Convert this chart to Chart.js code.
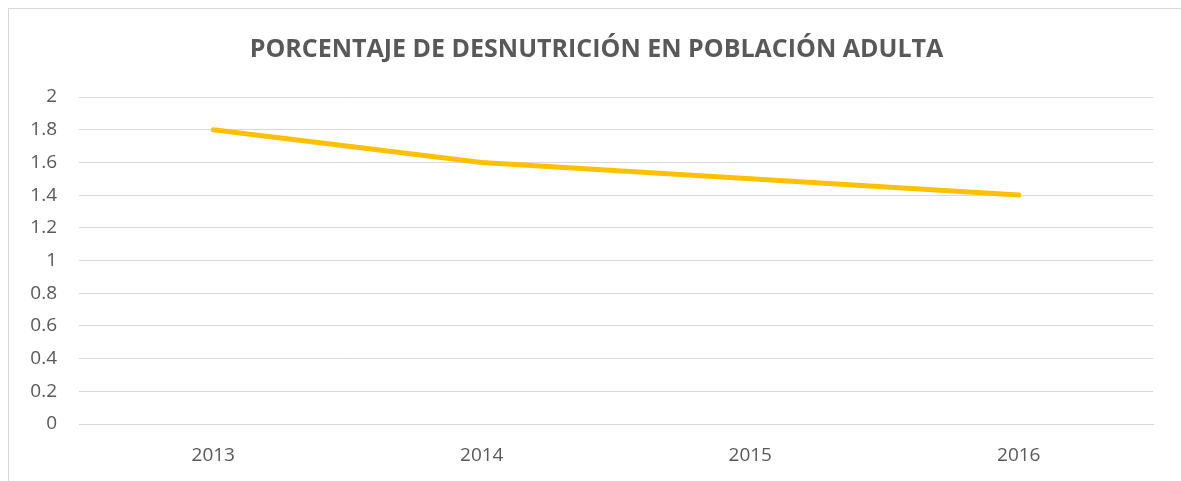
<!DOCTYPE html>
<html>
<head>
<meta charset="utf-8">
<script src="https://cdn.jsdelivr.net/npm/chart.js@4/dist/chart.umd.min.js"></script>
<style>
  html,body{margin:0;padding:0;background:#fff;overflow:hidden;}
  #wrap{position:relative;width:1181px;height:481px;}
  #frame{position:absolute;left:8px;top:8px;width:1200px;height:500px;border-left:1px solid #d9d9d9;border-top:1px solid #d9d9d9;pointer-events:none;}
</style>
</head>
<body>
<div id="wrap">
  <canvas id="c" width="1181" height="481"></canvas>
  <div id="frame"></div>
</div>
<script>
/* ===== Data ===== */
const years = ['2013','2014','2015','2016'];
const desnutricion = [1.8, 1.6, 1.5, 1.4];
const titleText = 'PORCENTAJE DE DESNUTRICIÓN EN POBLACIÓN ADULTA';

const grey = '#595959', gridCol = '#d9d9d9';

new Chart(document.getElementById('c').getContext('2d'), {
  type:'line',
  data:{ labels:years, datasets:[{
    data:desnutricion,
    borderColor:'#FFC000',
    borderWidth:5,
    borderCapStyle:'round',
    borderJoinStyle:'round',
    pointRadius:0,
    tension:0,
    fill:false
  }]},
  options:{
    responsive:false,
    animation:false,
    layout:{ padding:{ left:12, right:0, top:0, bottom:0 } },
    plugins:{
      legend:{ display:false },
      tooltip:{ enabled:false },
      title:{ display:true, text:titleText, color:grey,
        font:{ family:'"Open Sans", sans-serif', size:25, weight:'bold', lineHeight:1.2 },
        padding:{ top:35, bottom:32 } }
    },
    scales:{
      x:{
        offset:true,
        grid:{ display:false, drawTicks:false },
        border:{ display:true, color:gridCol, width:1 },
        ticks:{ color:grey, padding:20, font:{ family:'"Open Sans", sans-serif', size:19 } },
        afterFit:(s)=>{ s.height = 57; }
      },
      y:{
        min:0, max:2,
        grid:{ color:gridCol, lineWidth:1, drawTicks:false },
        border:{ display:false },
        ticks:{ stepSize:0.2, color:grey, padding:22,
          font:{ family:'"Open Sans", sans-serif', size:19 },
          callback:(v)=>String(Math.round(v*10)/10) },
        afterFit:(s)=>{ s.width = 67; }
      },
      // empty right-hand spacer so the plot ends where the reference does
      yR:{
        position:'right',
        grid:{ display:false, drawTicks:false },
        border:{ display:false },
        ticks:{ display:false },
        afterFit:(s)=>{ s.width = 28; }
      }
    }
  }
});
</script>
</body>
</html>
